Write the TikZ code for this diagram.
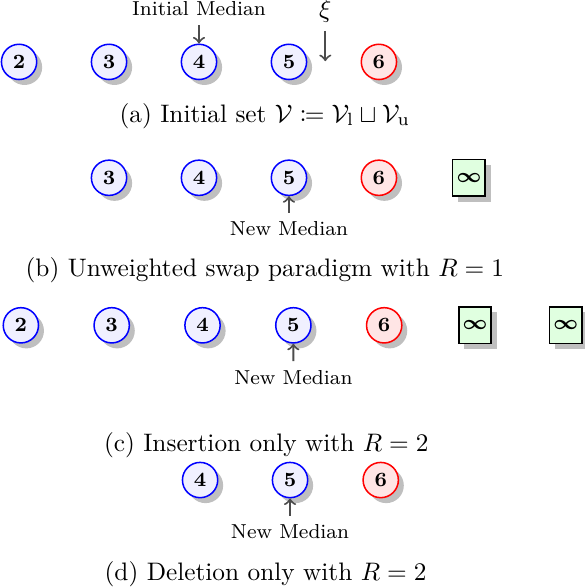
\documentclass[tikz,border=0pt]{standalone}
\usepackage{mathtools}
\usetikzlibrary{shadows}

\begin{document}
\begin{tikzpicture}
[
	lowpt/.style={circle,draw=blue,fill=blue!6,semithick,minimum size=0.49cm,inner sep=0pt,font=\footnotesize\bfseries,drop shadow={fill=black!25,opacity=1}},
	uppt/.style={lowpt,draw=red,fill=red!10},
	infpt/.style={rectangle,draw=black,fill=green!12,semithick,minimum width=0.45cm,minimum height=0.51cm,inner sep=0pt,font=\footnotesize\boldmath,drop shadow={fill=black!25,opacity=1}},
	medarrow/.style={->,thick,black!70},
	medlabel/.style={font=\footnotesize}
]

	\useasboundingbox (0,0) rectangle (8.12,-8.17);

	% (a) initial set
	\foreach \n [count=\i from 0] in {2,3,4,5}
		\node[lowpt] (a\n) at ({0.265+1.25*\i},-0.86) {\n};
	\node[uppt] (a6) at (5.265,-0.86) {6};
	\node[medlabel] (ainit) at (2.765,-0.125) {Initial Median};
	\draw[medarrow] (ainit) -- (a4);
	\node (axi) at (4.52,-0.15) {$\xi$};
	\coordinate (axiend) at (4.52,-0.85);
	\draw[medarrow] (axi) -- (axiend);
	\node (capa) at (3.68,-1.61) {(a) Initial set $\mathcal{V} \coloneqq \mathcal{V}_{\mathrm{l}} \sqcup \mathcal{V}_{\mathrm{u}}$};

	% (b) swap
	\foreach \n [count=\i from 1] in {3,4,5}
		\node[lowpt] (b\n) at ({0.265+1.25*\i},-2.47) {\n};
	\node[uppt] (b6) at (5.265,-2.47) {6};
	\node[infpt] (binf) at (6.515,-2.47) {$\infty$};
	\node[medlabel] (bnew) at (4.015,-3.18) {New Median};
	\draw[medarrow] (bnew) -- (b5);
	\node (capb) at (3.68,-3.75) {(b) Unweighted swap paradigm with $R=1$};

	% (c) insertion
	\foreach \n [count=\i from 0] in {2,3,4,5}
		\node[lowpt] (c\n) at ({0.29+1.262*\i},-4.52) {\n};
	\node[uppt] (c6) at (5.338,-4.52) {6};
	\node[infpt] (cinfa) at (6.60,-4.52) {$\infty$};
	\node[infpt] (cinfb) at (7.862,-4.52) {$\infty$};
	\node[medlabel] (cnew) at (4.076,-5.24) {New Median};
	\draw[medarrow] (cnew) -- (c5);
	\node (capc) at (3.70,-6.19) {(c) Insertion only with $R=2$};

	% (d) deletion
	\node[lowpt] (d4) at (2.78,-6.67) {4};
	\node[lowpt] (d5) at (4.03,-6.67) {5};
	\node[uppt] (d6) at (5.29,-6.67) {6};
	\node[medlabel] (dnew) at (4.03,-7.39) {New Median};
	\draw[medarrow] (dnew) -- (d5);
	\node (capd) at (3.69,-7.98) {(d) Deletion only with $R=2$};

\end{tikzpicture}
\end{document}
